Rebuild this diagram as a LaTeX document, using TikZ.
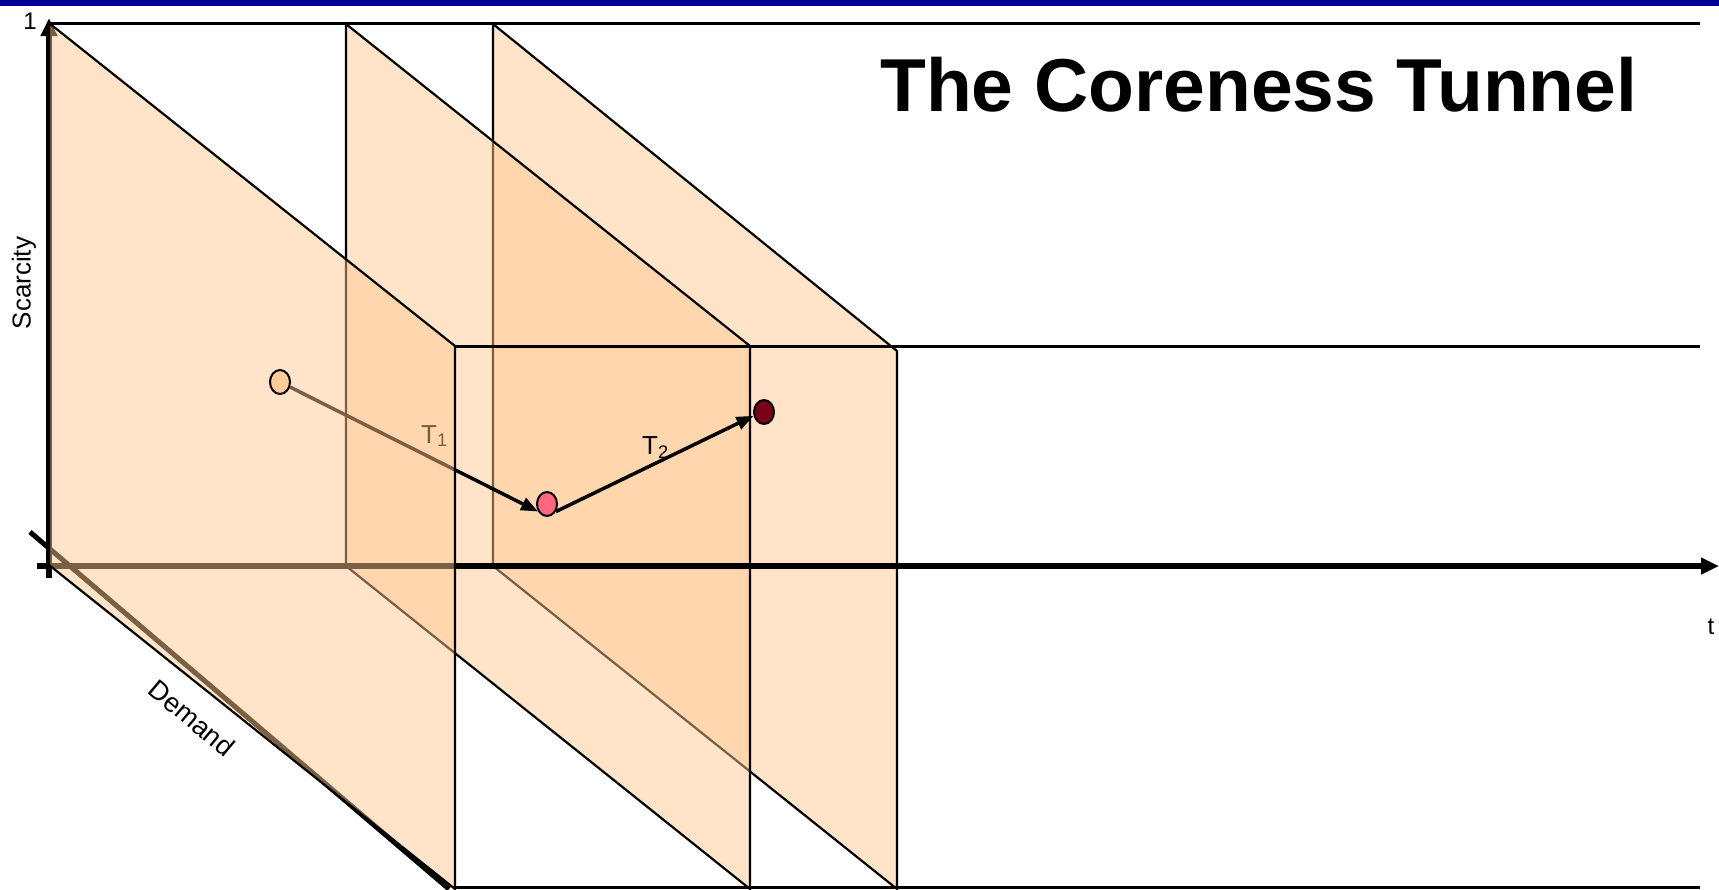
\documentclass[tikz,border=0pt]{standalone}
\usepackage{fontspec}
\setmainfont{Liberation Sans}
\usetikzlibrary{arrows.meta, shapes.geometric}
\definecolor{planefill}{RGB}{255,199,142}
\definecolor{titlebar}{HTML}{000099}
\definecolor{startdot}{HTML}{FFCC99}
\definecolor{middot}{HTML}{FF6680}
\definecolor{enddot}{HTML}{7A0018}
\pgfdeclarelayer{planesback}
\pgfdeclarelayer{axes}
\pgfdeclarelayer{planefront}
\pgfsetlayers{planesback,axes,planefront,main}

\begin{document}
\begin{tikzpicture}[x=1pt, y=-1pt,
    plane/.style={fill=planefill, fill opacity=0.48, draw=black, line width=2.2pt, line join=miter},
    tunnel/.style={draw=black, line width=3pt},
    axis/.style={line width=5.5pt, -{Triangle[length=18pt,width=16pt]}},
    dot/.style={ellipse, draw=black, line width=2pt, minimum width=20pt, minimum height=24pt, inner sep=0pt},
    move/.style={line width=3.5pt, -{Triangle[length=17pt,width=13pt]}},
    lbl/.style={font=\fontsize{26}{30}\selectfont, inner sep=0pt}]
  \useasboundingbox (0,0) rectangle (1719,889);
  \fill[titlebar] (0,0) rectangle (1719,6);

  % states along the tunnel
  \node[dot, fill=startdot] (start) at (280,382) {};
  \node[dot, fill=middot] (mid) at (547,504) {};
  \node[dot, fill=enddot] (end) at (764,412) {};

  \coordinate (ytop) at (49,18);
  \coordinate (ybot) at (49,578);
  \coordinate (xleft) at (37,566);
  \coordinate (xright) at (1719,566);
  \coordinate (dfar) at (30,532);
  \coordinate (dnear) at (449,889);

  % later slices
  \begin{pgfonlayer}{planesback}
    \draw[plane] (493,24) -- (897,351) -- (897,889) -- (493,566) -- cycle;
    \draw[plane] (346,24) -- (750,346) -- (750,889) -- (346,566) -- cycle;
  \end{pgfonlayer}

  % axes and first move
  \begin{pgfonlayer}{axes}
    \draw[line width=5pt] (dfar) -- (dnear);
    \draw[axis] (xleft) -- (xright);
    \draw[axis] (ybot) -- (ytop);
    \draw[move] (start) -- (mid.220);
    \node[lbl, anchor=base west] (t1) at (421,443) {T\textsubscript{1}};
  \end{pgfonlayer}

  % first slice
  \begin{pgfonlayer}{planefront}
    \draw[plane] (49,23) -- (455,346) -- (455,889) -- (49,565) -- cycle;
  \end{pgfonlayer}

  \draw[tunnel] (49,23) -- (1700,23);
  \draw[tunnel] (455,346) -- (1700,346);
  \draw[tunnel] (455,887) -- (1700,887);

  \draw[move] (mid.320) -- (end.200);
  \node[lbl, anchor=base west] (t2) at (642,454) {T\textsubscript{2}};

  \node[lbl, font=\fontsize{24}{28}\selectfont] (one) at (30,21) {1};
  \node[lbl, rotate=90] (scarcity) at (24,283) {Scarcity};
  \node[lbl, font=\fontsize{24}{28}\selectfont] (tlab) at (1711,627) {t};
  \node[lbl, font=\fontsize{27}{30}\selectfont, rotate=-40] (demand) at (192,718) {Demand};
  \node[anchor=base west, inner sep=0pt, font=\fontsize{75}{90}\selectfont\bfseries] (title) at (880,111) {The Coreness Tunnel};
\end{tikzpicture}
\end{document}
